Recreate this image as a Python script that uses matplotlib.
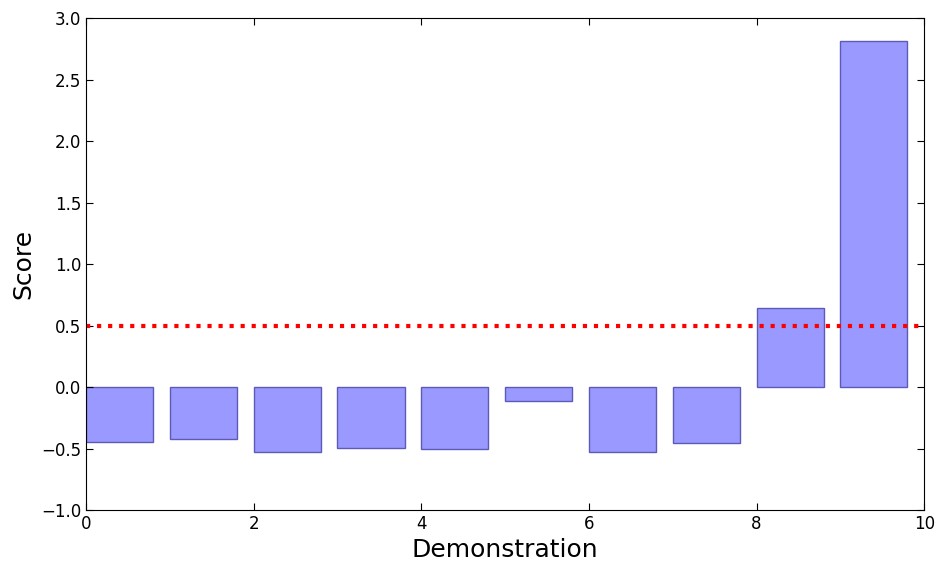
import numpy as np
import matplotlib
matplotlib.use('Agg')
import matplotlib.pyplot as plt

demos = np.arange(10)
scores = [-0.445, -0.42, -0.526, -0.493, -0.50, -0.111, -0.526, -0.455, 0.64, 2.813]
threshold = 0.5

fig = plt.figure(figsize=(9.45, 5.63), dpi=100)
ax = fig.add_axes([0.091, 0.094, 0.887, 0.874])

ax.bar(demos, scores, width=0.8, align='edge', facecolor='#9999ff',
       edgecolor='#5c5cb8', linewidth=1)
ax.axhline(threshold, color='red', linestyle=':', linewidth=3)

ax.set_xlim(0, 10)
ax.set_ylim(-1.0, 3.0)
ax.set_yticks(np.arange(-1.0, 3.01, 0.5))
ax.tick_params(direction='in', top=True, right=True, labelsize=12, length=5)
ax.set_xlabel('Demonstration', fontsize=18)
ax.set_ylabel('Score', fontsize=18)

fig.savefig('out.png', dpi=100)
